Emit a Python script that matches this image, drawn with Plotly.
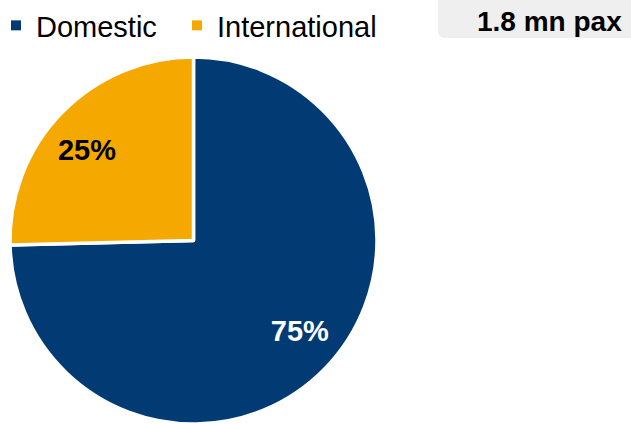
import plotly.graph_objects as go

labels = ["Domestic", "International"]
values = [74.6, 25.4]
colors = ["#023A74", "#F5A800"]
text_colors = ["white", "black"]
total_label = "1.8 mn pax"

W, H = 631, 424
FONT = "Liberation Sans, Arial, sans-serif"

# pie geometry (pixels)
cx, cy, r = 193.5, 240.5, 183.5
dom_x = [(cx - r) / W, (cx + r) / W]
dom_y = [max(0, (H - cy - r) / H), min(1, (H - cy + r) / H)]

common = dict(labels=labels, values=values, sort=False, direction="clockwise",
              domain=dict(x=dom_x, y=dom_y), showlegend=False)

# coloured slices
fig = go.Figure(go.Pie(
    **common,
    rotation=0,
    marker=dict(colors=colors, line=dict(color="white", width=3.5)),
    textinfo="none",
    hoverinfo="label+percent",
))
# transparent ring carrying the percentage labels further out
fig.add_trace(go.Pie(
    **common,
    rotation=-4,
    hole=0.52,
    marker=dict(colors=["rgba(0,0,0,0)"] * len(values), line=dict(width=0)),
    texttemplate="%{percent:.0%}",
    textposition="inside",
    insidetextorientation="horizontal",
    textfont=dict(family=FONT, size=29, color=text_colors, weight="bold"),
    hoverinfo="skip",
))

# legend entries (one legend per label so their spacing can be set)
legend_ids = ["legend", "legend2"]
for lab, col, lid in zip(labels, colors, legend_ids):
    fig.add_trace(go.Scatter(
        x=[None], y=[None], mode="markers", name=lab, legend=lid,
        marker=dict(symbol="square", size=10, color=col, line=dict(width=0)),
        hoverinfo="skip", showlegend=True,
    ))

# rounded grey box behind the total label
bx0, bx1, by0, by1, rr = 438, 640, -10, 38, 7
def px(x):
    return x / W
def py(y):
    return 1 - y / H
path = (
    f"M {px(bx0)},{py(by0)} "
    f"L {px(bx0)},{py(by1 - rr)} "
    f"Q {px(bx0)},{py(by1)} {px(bx0 + rr)},{py(by1)} "
    f"L {px(bx1)},{py(by1)} "
    f"L {px(bx1)},{py(by0)} Z"
)
fig.add_shape(type="path", path=path, xref="paper", yref="paper",
              fillcolor="#EFEFEF", line=dict(width=0), layer="below")
fig.add_annotation(text=f"<b>{total_label}</b>", x=px(624), y=py(21),
                   xref="paper", yref="paper", xanchor="right", yanchor="middle",
                   showarrow=False, font=dict(family=FONT, size=28, color="black"))

legend_style = dict(orientation="h", y=1.0, xanchor="left", yanchor="top",
                    indentation=-4,
                    font=dict(family=FONT, size=29, color="black"),
                    bgcolor="rgba(0,0,0,0)")

fig.update_layout(
    width=W, height=H,
    margin=dict(l=0, r=0, t=0, b=0),
    paper_bgcolor="white", plot_bgcolor="white",
    showlegend=True,
    legend=dict(x=0, **legend_style),
    legend2=dict(x=181 / W, **legend_style),
    xaxis=dict(visible=False),
    yaxis=dict(visible=False),
)

fig.write_html("out.html", config={"displayModeBar": False},
               post_script="document.body.style.margin='0px';")
